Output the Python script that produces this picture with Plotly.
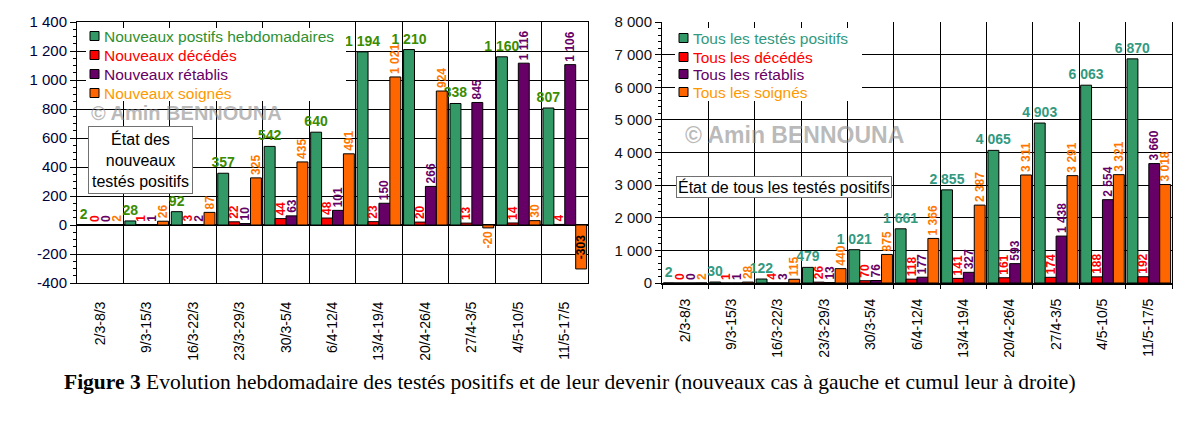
import plotly.graph_objects as go

# ---------------- data ----------------
categories = ["2/3-8/3", "9/3-15/3", "16/3-22/3", "23/3-29/3", "30/3-5/4", "6/4-12/4",
              "13/4-19/4", "20/4-26/4", "27/4-3/5", "4/5-10/5", "11/5-17/5"]

new_positive = [2, 28, 92, 357, 542, 640, 1194, 1210, 838, 1160, 807]
new_deaths = [0, 1, 3, 22, 44, 48, 23, 20, 13, 14, 4]
new_recovered = [0, 1, 2, 10, 63, 101, 150, 266, 845, 1116, 1106]
new_treated = [2, 26, 87, 325, 435, 491, 1021, 924, -20, 30, -303]

cum_positive = [2, 30, 122, 479, 1021, 1661, 2855, 4065, 4903, 6063, 6870]
cum_deaths = [0, 1, 4, 26, 70, 118, 141, 161, 174, 188, 192]
cum_recovered = [0, 1, 3, 13, 76, 177, 327, 593, 1438, 2554, 3660]
cum_treated = [2, 28, 115, 440, 875, 1366, 2387, 3311, 3291, 3321, 3018]

left_tick_values = [-400, -200, 0, 200, 400, 600, 800, 1000, 1200, 1400]
left_tick_labels = ["-400", "-200", "0", "200", "400", "600", "800", "1 000", "1 200", "1 400"]
right_tick_values = [0, 1000, 2000, 3000, 4000, 5000, 6000, 7000, 8000]
right_tick_labels = ["0", "1 000", "2 000", "3 000", "4 000", "5 000", "6 000", "7 000", "8 000"]

left_names = ["Nouveaux postifs hebdomadaires", "Nouveaux décédés", "Nouveaux rétablis", "Nouveaux soignés"]
right_names = ["Tous les testés positifs", "Tous les décédés", "Tous les rétablis", "Tous les soignés"]

# ---------------- styles ----------------
PAGE_W, PAGE_H = 1193, 423
OFF = 8                      # default page margin around the figure
W, H = PAGE_W - 2 * OFF, PAGE_H - 2 * OFF
BAR_COLORS = ["#339966", "#FF0000", "#660066", "#FF6600"]
LEFT_LABEL_COLORS = ["#3A8C00", "#FF0000", "#660066", "#FF7700"]
RIGHT_LABEL_COLORS = ["#339980", "#FF0000", "#660066", "#FF7700"]
LEFT_LEGEND_COLORS = ["#2F9030", "#FF0000", "#660066", "#FF9900"]
RIGHT_LEGEND_COLORS = ["#339980", "#FF0000", "#660066", "#FF9900"]
SANS = "Liberation Sans, Arial, sans-serif"
LEFT_TOP, LEFT_BOTTOM = 22, 283
LEFT_RANGE = [-400, 1400]


def fmt(v):
    return f"{v:,}".replace(",", " ")


def px_x(p):
    return (p - OFF) / W


def px_y(p):
    return (H - (p - OFF)) / H


fig = go.Figure()


def add_series(values, name, idx, xa, ya, label_colors):
    positions = ["inside" if (v < 0 and abs(v) > 100) else "outside" for v in values]
    tcolors = ["#000000" if pos == "inside" else label_colors[idx] for pos in positions]
    fig.add_trace(go.Bar(
        x=categories, y=values, name=name,
        marker=dict(color=BAR_COLORS[idx], line=dict(color="black", width=1)),
        text=[fmt(v) for v in values],
        textposition=positions,
        insidetextanchor="middle",
        textangle=0 if idx == 0 else -90,
        textfont=dict(family=SANS, size=14 if idx == 0 else 12, color=tcolors, weight="bold"),
        constraintext="none",
        cliponaxis=False,
        xaxis=xa, yaxis=ya,
        showlegend=False,
        hoverinfo="x+y+name",
    ))


for i, (vals, nm) in enumerate(zip([new_positive, new_deaths, new_recovered, new_treated], left_names)):
    add_series(vals, nm, i, "x", "y", LEFT_LABEL_COLORS)
for i, (vals, nm) in enumerate(zip([cum_positive, cum_deaths, cum_recovered, cum_treated], right_names)):
    add_series(vals, nm, i, "x2", "y2", RIGHT_LABEL_COLORS)

xcommon = dict(
    type="category", tickson="boundaries", showgrid=True, gridcolor="black", gridwidth=1,
    tickangle=-90, tickfont=dict(family=SANS, size=14, color="black"),
    showline=True, linecolor="black", range=[-0.5, 10.5], fixedrange=True, automargin=False,
)

# vertical pixel position of the value 0 on the left chart (for the crossing tick marks)
zero_px = LEFT_BOTTOM - (0 - LEFT_RANGE[0]) / (LEFT_RANGE[1] - LEFT_RANGE[0]) * (LEFT_BOTTOM - LEFT_TOP)

fig.update_layout(
    width=W, height=H,
    margin=dict(l=0, r=0, t=0, b=0),
    paper_bgcolor="white", plot_bgcolor="white",
    barmode="group", bargap=0.06, bargroupgap=0,
    font=dict(family=SANS, color="black"),
    showlegend=False,
    xaxis=dict(domain=[px_x(77), px_x(588)], anchor="y", mirror=True, linewidth=1,
               ticks="", ticklabelstandoff=12, **xcommon),
    xaxis3=dict(overlaying="x", anchor="free", position=px_y(zero_px), side="bottom",
                type="category", categoryorder="array", categoryarray=categories,
                range=[-0.5, 10.5], tickson="boundaries", ticks="outside", ticklen=5,
                tickcolor="black", tickwidth=1, showticklabels=False, showgrid=False,
                showline=False, zeroline=False, fixedrange=True, automargin=False),
    yaxis=dict(domain=[px_y(LEFT_BOTTOM), px_y(LEFT_TOP)], anchor="x", range=LEFT_RANGE, automargin=False,
               tickvals=left_tick_values, ticktext=left_tick_labels,
               tickfont=dict(family=SANS, size=15, color="#00003A"),
               showgrid=True, gridcolor="black", gridwidth=1,
               zeroline=True, zerolinecolor="black", zerolinewidth=2,
               showline=True, linecolor="black", linewidth=1, mirror=True,
               ticks="outside", ticklen=6, tickcolor="black",
               minor=dict(dtick=50, tick0=0, ticks="outside", ticklen=3, tickcolor="black", showgrid=False)),
    xaxis2=dict(domain=[px_x(662), px_x(1172)], anchor="y2", mirror=False, linewidth=2,
                ticks="outside", ticklen=4, tickcolor="black", ticklabelstandoff=8, **xcommon),
    yaxis2=dict(domain=[px_y(283), px_y(22)], anchor="x2", range=[0, 8000], automargin=False,
                tickvals=right_tick_values, ticktext=right_tick_labels,
                tickfont=dict(family=SANS, size=15, color="#111111"),
                showgrid=True, gridcolor="black", gridwidth=1, zeroline=False,
                showline=True, linecolor="black", linewidth=1, mirror=True,
                ticks="outside", ticklen=6, tickcolor="black",
                minor=dict(dtick=200, tick0=0, ticks="outside", ticklen=3, tickcolor="black", showgrid=False)),
)

shapes = []
annotations = []


# ---- legends (drawn as keyed text boxes inside each plot area) ----
def add_legend(names, text_colors, box, marker_x, text_x, row_y):
    x0, y0, x1, y1 = box
    shapes.append(dict(type="rect", xref="paper", yref="paper", layer="above",
                       x0=px_x(x0), x1=px_x(x1), y0=px_y(y1), y1=px_y(y0),
                       fillcolor="white", line=dict(width=0)))
    for i, (nm, col) in enumerate(zip(names, text_colors)):
        cy = row_y[i]
        shapes.append(dict(type="rect", xref="paper", yref="paper", layer="above",
                           x0=px_x(marker_x), x1=px_x(marker_x + 9),
                           y0=px_y(cy + 4.5), y1=px_y(cy - 4.5),
                           fillcolor=BAR_COLORS[i], line=dict(color="black", width=1)))
        annotations.append(dict(text=nm, x=px_x(text_x), y=px_y(cy), xref="paper", yref="paper",
                                xanchor="left", yanchor="middle", showarrow=False,
                                font=dict(family=SANS, size=15.5, color=col)))


add_legend(left_names, LEFT_LEGEND_COLORS, (86, 28, 346, 101), 90, 102, [36, 55, 74, 93])
add_legend(right_names, RIGHT_LEGEND_COLORS, (675, 28, 862, 101), 679, 691, [38, 57, 74, 92])

annotations += [
    dict(text="© Amin BENNOUNA", x=px_x(186), y=px_y(113), xref="paper", yref="paper",
         xanchor="center", yanchor="middle", showarrow=False,
         font=dict(family=SANS, size=20, color="rgba(140,140,140,0.6)", weight="bold")),
    dict(text="© Amin BENNOUNA", x=px_x(794), y=px_y(135), xref="paper", yref="paper",
         xanchor="center", yanchor="middle", showarrow=False,
         font=dict(family=SANS, size=23, color="rgba(140,140,140,0.6)", weight="bold")),
    dict(text="État des<br>nouveaux<br>testés positifs", x=px_x(140.5), y=px_y(160), xref="paper", yref="paper",
         xanchor="center", yanchor="middle", showarrow=False,
         bgcolor="white", bordercolor="#707070", borderwidth=1, borderpad=3,
         font=dict(family=SANS, size=16, color="black")),
    dict(text="État de tous les testés positifs", x=px_x(783.5), y=px_y(186.5), xref="paper", yref="paper",
         xanchor="center", yanchor="middle", showarrow=False,
         bgcolor="white", bordercolor="#707070", borderwidth=1, borderpad=1,
         font=dict(family=SANS, size=16, color="black")),
    dict(text="<b>Figure 3</b> Evolution hebdomadaire des testés positifs et de leur devenir "
              "(nouveaux cas à gauche et cumul leur à droite)",
         x=px_x(570), y=px_y(382), xref="paper", yref="paper",
         xanchor="center", yanchor="middle", showarrow=False,
         font=dict(family="Liberation Serif, Times New Roman, serif", size=21.5, color="black")),
]
fig.update_layout(shapes=shapes, annotations=annotations)

fig.write_html("out.html")
